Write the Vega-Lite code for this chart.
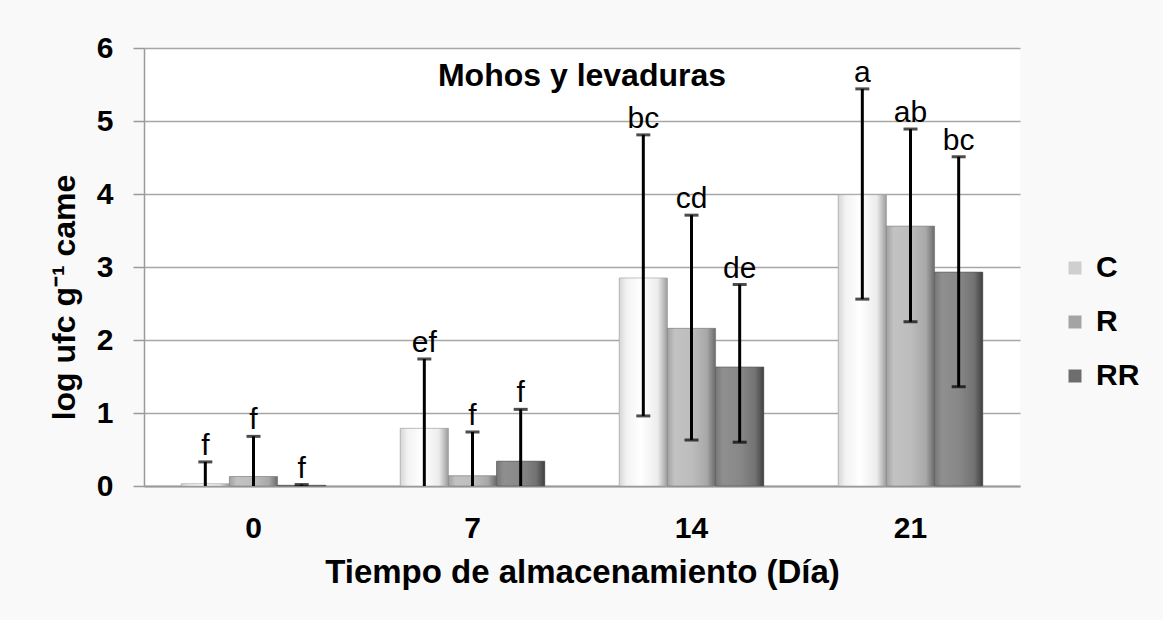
{
  "$schema": "https://vega.github.io/schema/vega-lite/v6.json",
  "width": 876,
  "height": 438,
  "autosize": {"type": "none"},
  "padding": {"left": 144, "top": 48, "right": 143, "bottom": 134},
  "background": "#f9f9f9",
  "config": {
    "font": "Liberation Sans",
    "view": {"fill": "white", "stroke": null},
    "legend": {"orient": "none"}
  },
  "datasets": {
    "bars": [
      {"day": "0", "s": "C", "mean": 0.03, "lo": 0, "hi": 0.33, "locap": null, "lab": "f"},
      {"day": "0", "s": "R", "mean": 0.13, "lo": 0, "hi": 0.68, "locap": null, "lab": "f"},
      {"day": "0", "s": "RR", "mean": 0.01, "lo": 0, "hi": 0.02, "locap": null, "lab": "f"},
      {"day": "7", "s": "C", "mean": 0.79, "lo": 0, "hi": 1.74, "locap": null, "lab": "ef"},
      {"day": "7", "s": "R", "mean": 0.14, "lo": 0, "hi": 0.74, "locap": null, "lab": "f"},
      {"day": "7", "s": "RR", "mean": 0.34, "lo": 0, "hi": 1.05, "locap": null, "lab": "f"},
      {"day": "14", "s": "C", "mean": 2.85, "lo": 0.96, "hi": 4.81, "locap": 0.96, "lab": "bc"},
      {"day": "14", "s": "R", "mean": 2.16, "lo": 0.63, "hi": 3.71, "locap": 0.63, "lab": "cd"},
      {"day": "14", "s": "RR", "mean": 1.63, "lo": 0.6, "hi": 2.76, "locap": 0.6, "lab": "de"},
      {"day": "21", "s": "C", "mean": 3.99, "lo": 2.56, "hi": 5.44, "locap": 2.56, "lab": "a"},
      {"day": "21", "s": "R", "mean": 3.56, "lo": 2.25, "hi": 4.89, "locap": 2.25, "lab": "ab"},
      {"day": "21", "s": "RR", "mean": 2.93, "lo": 1.36, "hi": 4.51, "locap": 1.36, "lab": "bc"}
    ],
    "heading": [{"t": "Mohos  y levaduras"}]
  },
  "data": {"name": "bars"},
  "layer": [
    {
      "mark": {"type": "bar"},
      "encoding": {
        "x": {
          "field": "day",
          "type": "nominal",
          "sort": null,
          "scale": {"paddingInner": 0.34, "paddingOuter": 0.17},
          "axis": {
            "labelAngle": 0,
            "labelFontSize": 30,
            "labelFontWeight": "bold",
            "labelColor": "black",
            "labelBaseline": "alphabetic",
            "labelPadding": 51,
            "ticks": false,
            "tickSize": 0,
            "domainColor": "#9a9a9a",
            "domainWidth": 2,
            "grid": false,
            "title": "Tiempo de almacenamiento  (Día)",
            "titleFontSize": 33,
            "titleFontWeight": "bold",
            "titleColor": "black",
            "titleBaseline": "alphabetic",
            "titleY": 96
          }
        },
        "xOffset": {"field": "s", "type": "nominal", "scale": {"domain": ["C", "R", "RR"], "paddingInner": 0, "paddingOuter": 0}},
        "y": {
          "field": "mean",
          "type": "quantitative",
          "scale": {"domain": [0, 6]},
          "axis": {
            "values": [0, 1, 2, 3, 4, 5, 6],
            "format": "d",
            "labelFontSize": 30,
            "labelFontWeight": "bold",
            "labelColor": "black",
            "labelPadding": 20,
            "tickSize": 11,
            "tickColor": "#9a9a9a",
            "tickWidth": 1.5,
            "domainColor": "#9a9a9a",
            "domainWidth": 1.5,
            "gridColor": "#a6a6a6",
            "gridWidth": 1.5,
            "title": "log ufc g⁻¹ came",
            "titleFontSize": 32,
            "titleFontWeight": "bold",
            "titleColor": "black",
            "titleAngle": 270,
            "titleAlign": "center",
            "titleBaseline": "middle",
            "titleX": -80,
            "titleY": 249
          }
        },
        "color": {
          "field": "s",
          "type": "nominal",
          "scale": {"domain": ["C", "R", "RR"], "range": ["#cfcfcf", "#a4a4a4", "#6e6e6e"]},
          "legend": {
            "title": null,
            "legendX": 916,
            "legendY": 205,
            "direction": "vertical",
            "symbolType": "square",
            "symbolSize": 169,
            "symbolStrokeWidth": 0,
            "labelFontSize": 30,
            "labelFontWeight": "bold",
            "labelColor": "black",
            "labelOffset": 6,
            "rowPadding": 24
          }
        }
      }
    },
    {
      "transform": [{"filter": "datum.s === 'C'"}],
      "mark": {
        "type": "bar",
        "stroke": "#9a9a9a",
        "strokeWidth": 0.6,
        "fill": {"gradient": "linear", "x1": 0, "y1": 0, "x2": 1, "y2": 0,
          "stops": [{"offset": 0, "color": "#d6d6d6"}, {"offset": 0.15, "color": "#f2f2f2"}, {"offset": 0.45, "color": "#ffffff"}, {"offset": 0.8, "color": "#ececec"}, {"offset": 1, "color": "#9c9c9c"}]}
      },
      "encoding": {
        "x": {"field": "day", "type": "nominal", "sort": null},
        "xOffset": {"field": "s", "type": "nominal"},
        "y": {"field": "mean", "type": "quantitative"}
      }
    },
    {
      "transform": [{"filter": "datum.s === 'R'"}],
      "mark": {
        "type": "bar",
        "stroke": "#808080",
        "strokeWidth": 0.6,
        "fill": {"gradient": "linear", "x1": 0, "y1": 0, "x2": 1, "y2": 0,
          "stops": [{"offset": 0, "color": "#a2a2a2"}, {"offset": 0.15, "color": "#c2c2c2"}, {"offset": 0.5, "color": "#bdbdbd"}, {"offset": 0.82, "color": "#a8a8a8"}, {"offset": 1, "color": "#6a6a6a"}]}
      },
      "encoding": {
        "x": {"field": "day", "type": "nominal", "sort": null},
        "xOffset": {"field": "s", "type": "nominal"},
        "y": {"field": "mean", "type": "quantitative"}
      }
    },
    {
      "transform": [{"filter": "datum.s === 'RR'"}],
      "mark": {
        "type": "bar",
        "stroke": "#555555",
        "strokeWidth": 0.6,
        "fill": {"gradient": "linear", "x1": 0, "y1": 0, "x2": 1, "y2": 0,
          "stops": [{"offset": 0, "color": "#777777"}, {"offset": 0.15, "color": "#8f8f8f"}, {"offset": 0.5, "color": "#888888"}, {"offset": 0.82, "color": "#737373"}, {"offset": 1, "color": "#404040"}]}
      },
      "encoding": {
        "x": {"field": "day", "type": "nominal", "sort": null},
        "xOffset": {"field": "s", "type": "nominal"},
        "y": {"field": "mean", "type": "quantitative"}
      }
    },
    {
      "mark": {"type": "rule", "color": "black", "strokeWidth": 3},
      "encoding": {
        "x": {"field": "day", "type": "nominal", "sort": null},
        "xOffset": {"field": "s", "type": "nominal"},
        "y": {"field": "lo", "type": "quantitative"},
        "y2": {"field": "hi"}
      }
    },
    {
      "mark": {"type": "tick", "color": "black", "thickness": 3, "size": 14},
      "encoding": {
        "x": {"field": "day", "type": "nominal", "sort": null},
        "xOffset": {"field": "s", "type": "nominal"},
        "y": {"field": "hi", "type": "quantitative"}
      }
    },
    {
      "mark": {"type": "tick", "color": "black", "thickness": 3, "size": 14},
      "encoding": {
        "x": {"field": "day", "type": "nominal", "sort": null},
        "xOffset": {"field": "s", "type": "nominal"},
        "y": {"field": "locap", "type": "quantitative"}
      }
    },
    {
      "mark": {"type": "text", "fontSize": 30, "baseline": "alphabetic", "dy": -7, "color": "black"},
      "encoding": {
        "x": {"field": "day", "type": "nominal", "sort": null},
        "xOffset": {"field": "s", "type": "nominal"},
        "y": {"field": "hi", "type": "quantitative"},
        "text": {"field": "lab"}
      }
    },
    {
      "data": {"name": "heading"},
      "mark": {"type": "text", "fontSize": 32, "fontWeight": "bold", "baseline": "alphabetic", "align": "center", "color": "black"},
      "encoding": {
        "x": {"value": {"expr": "width/2"}},
        "y": {"datum": 5.48, "type": "quantitative"},
        "text": {"field": "t"}
      }
    }
  ]
}
